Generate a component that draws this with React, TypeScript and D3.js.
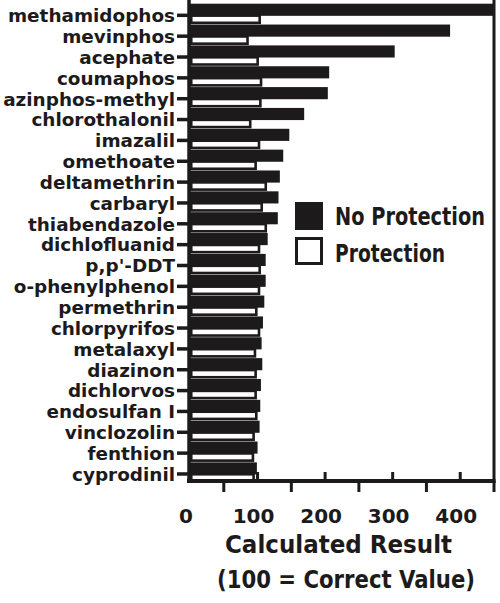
import React, { useLayoutEffect, useRef, useState } from "react";
import * as d3 from "d3";

const categories = [
  "methamidophos", "mevinphos", "acephate", "coumaphos", "azinphos-methyl",
  "chlorothalonil", "imazalil", "omethoate", "deltamethrin", "carbaryl",
  "thiabendazole", "dichlofluanid", "p,p'-DDT", "o-phenylphenol", "permethrin",
  "chlorpyrifos", "metalaxyl", "diazinon", "dichlorvos", "endosulfan I",
  "vinclozolin", "fenthion", "cyprodinil",
];
const noProtection = [460, 385, 303, 206, 204, 169, 147, 138, 133, 131, 130, 115, 112, 112, 110, 108, 106, 107, 105, 104, 103, 100, 99];
const protection = [105, 87, 102, 107, 106, 91, 104, 99, 114, 108, 114, 104, 105, 104, 100, 104, 98, 99, 99, 100, 96, 95, 96];
const tickLabels = [0, 100, 200, 300, 400];
const minorTicks = [50, 150, 250, 350, 450];
const innerTicks = [100, 200, 300, 400];
const seriesNames = ["No Protection", "Protection"];
const xTitle = "Calculated Result";
const xSubtitle = "(100 = Correct Value)";

const W = 500, H = 603;
const INK = "#1c1a1b";
const FONT = "'DejaVu Sans', sans-serif";

function FitText(props: { x: number; y: number; width: number; size: number; anchor?: string; children: string }) {
  const ref = useRef<SVGTextElement | null>(null);
  const [s, setS] = useState(0.75);
  useLayoutEffect(() => {
    if (ref.current) {
      const len = ref.current.getComputedTextLength();
      if (len > 0) setS(props.width / len);
    }
  }, [props.width, props.children]);
  return (
    <text
      ref={ref}
      transform={`translate(${props.x},${props.y}) scale(${s},1)`}
      textAnchor={props.anchor || "start"}
      fontFamily={FONT}
      fontWeight="bold"
      fontSize={props.size}
      fill={INK}
    >
      {props.children}
    </text>
  );
}

export default function App() {
  const x = d3.scaleLinear().domain([0, 450]).range([190, 494]).clamp(true);
  const y = d3.scaleBand().domain(categories).range([4.9, 484.4]).padding(0);
  const bw = y.bandwidth();
  const axisY = 481;
  const c = (n: string) => (y(n) as number) + bw / 2;

  return (
    <svg width={W} height={H} style={{ position: "absolute", left: 0, top: 0, background: "#fff" }}>
      {/* black bars: No Protection */}
      {categories.map((n, i) => (
        <rect key={"b" + n} x={x(0)} y={c(n) - bw / 2 - 1.2} width={x(noProtection[i]) - x(0)} height={bw / 2 + 1.7} fill={INK} />
      ))}
      {/* white bars: Protection */}
      {categories.map((n, i) => (
        <rect key={"w" + n} x={x(0) + 1.25} y={c(n) + 0.3} width={x(protection[i]) - x(0) - 2.5} height={7.2} fill="#fff" stroke={INK} strokeWidth={2.6} />
      ))}
      {/* left axis */}
      <line x1={189} x2={189} y1={0} y2={axisY + 2} stroke={INK} strokeWidth={3.5} />
      {categories.map((n) => (
        <line key={"t" + n} x1={177} x2={190} y1={c(n)} y2={c(n)} stroke={INK} strokeWidth={3.5} />
      ))}
      {/* right frame */}
      <line x1={x(450)} x2={x(450)} y1={0} y2={axisY + 2} stroke={INK} strokeWidth={3} />
      {/* bottom axis */}
      <line x1={187} x2={x(450) + 1.5} y1={axisY} y2={axisY} stroke={INK} strokeWidth={4} />
      {minorTicks.map((v) => (
        <line key={"m" + v} x1={x(v)} x2={x(v)} y1={axisY} y2={axisY + 11} stroke={INK} strokeWidth={3} />
      ))}
      {innerTicks.map((v) => (
        <line key={"i" + v} x1={x(v)} x2={x(v)} y1={axisY - 9} y2={axisY} stroke={INK} strokeWidth={3} />
      ))}
      {/* category labels */}
      {categories.map((n) => (
        <text key={"l" + n} x={175} y={c(n) + 6.8} textAnchor="end" fontFamily={FONT} fontWeight="bold" fontSize={18.4} fill={INK}>
          {n}
        </text>
      ))}
      {/* tick labels */}
      {tickLabels.map((v) => (
        <text key={"x" + v} x={x(v) - 4} y={523} textAnchor="middle" fontFamily={FONT} fontWeight="bold" fontSize={20} fill={INK}>
          {v}
        </text>
      ))}
      {/* axis titles */}
      <FitText x={338.5} y={553} width={227} size={25} anchor="middle">{xTitle}</FitText>
      <FitText x={346} y={588} width={258} size={25} anchor="middle">{xSubtitle}</FitText>
      {/* legend */}
      <rect x={295} y={202} width={28} height={28} fill={INK} />
      <rect x={296.5} y={238.5} width={25} height={25} fill="#fff" stroke={INK} strokeWidth={3} />
      <FitText x={335} y={225} width={150} size={25}>{seriesNames[0]}</FitText>
      <FitText x={335} y={262} width={110} size={25}>{seriesNames[1]}</FitText>
    </svg>
  );
}
